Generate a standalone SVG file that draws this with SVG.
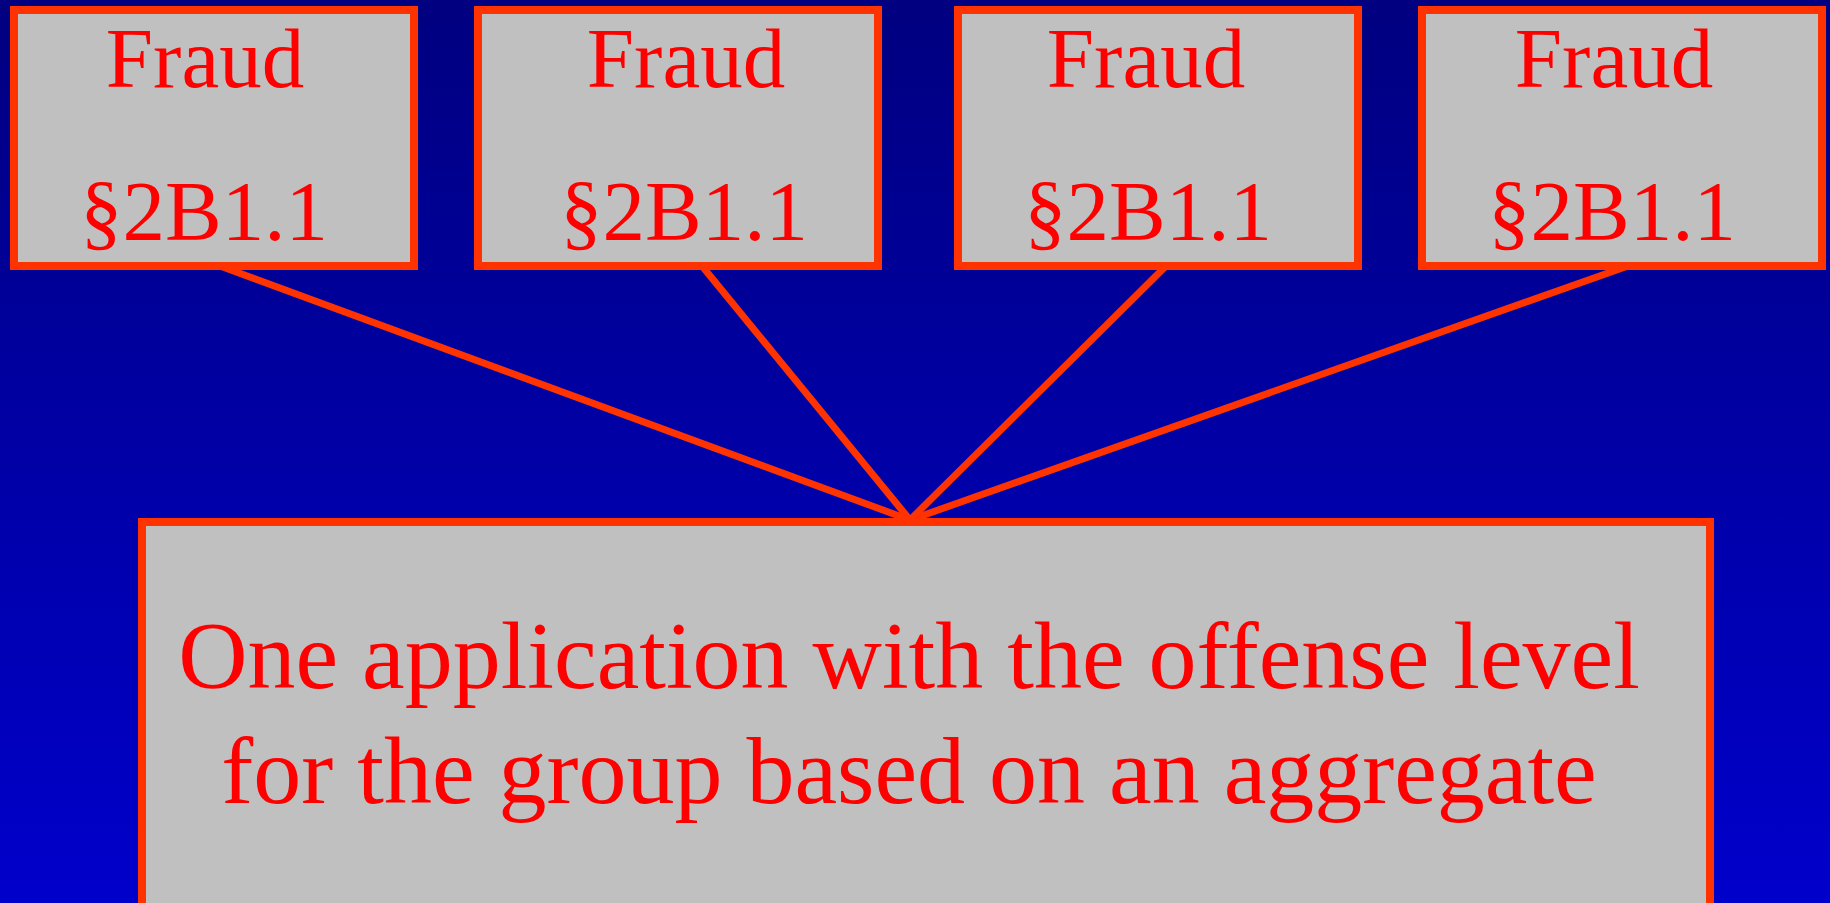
<svg xmlns="http://www.w3.org/2000/svg" width="1830" height="903" viewBox="0 0 1830 903">
  <defs>
    <linearGradient id="bg" x1="0" y1="0" x2="0" y2="1">
      <stop offset="0" stop-color="#000080"/>
      <stop offset="1" stop-color="#0000CC"/>
    </linearGradient>
    <style>
      .box { fill: #C0C0C0; stroke: #FF3300; stroke-width: 8; }
      .conn { stroke: #FF3300; stroke-width: 7; fill: none; }
      .t { fill: #FF0000; font-family: "Liberation Serif", "Times New Roman", serif; text-anchor: middle; }
      .small { font-size: 85px; }
      .big { font-size: 96px; }
    </style>
  </defs>
  <rect x="0" y="0" width="1830" height="903" fill="url(#bg)"/>
  <g id="connectors">
    <line class="conn" x1="220" y1="266" x2="910" y2="520"/>
    <line class="conn" x1="702" y1="266" x2="910" y2="520"/>
    <line class="conn" x1="1166" y1="266" x2="910" y2="520"/>
    <line class="conn" x1="1628" y1="266" x2="910" y2="520"/>
  </g>
  <g id="fraud1">
    <rect class="box" x="14" y="10" width="400" height="256"/>
    <text class="t small" x="205" y="87">Fraud</text>
    <text class="t small" x="204" y="240">§2B1.1</text>
  </g>
  <g id="fraud2">
    <rect class="box" x="478" y="10" width="400" height="256"/>
    <text class="t small" x="686" y="87">Fraud</text>
    <text class="t small" x="684" y="240">§2B1.1</text>
  </g>
  <g id="fraud3">
    <rect class="box" x="958" y="10" width="400" height="256"/>
    <text class="t small" x="1146" y="87">Fraud</text>
    <text class="t small" x="1148" y="240">§2B1.1</text>
  </g>
  <g id="fraud4">
    <rect class="box" x="1422" y="10" width="400" height="256"/>
    <text class="t small" x="1614" y="87">Fraud</text>
    <text class="t small" x="1612" y="240">§2B1.1</text>
  </g>
  <g id="aggregate">
    <rect class="box" x="142" y="522" width="1568" height="386"/>
    <text class="t big" x="909" y="688">One application with the offense level</text>
    <text class="t big" x="909" y="803">for the group based on an aggregate</text>
  </g>
</svg>
